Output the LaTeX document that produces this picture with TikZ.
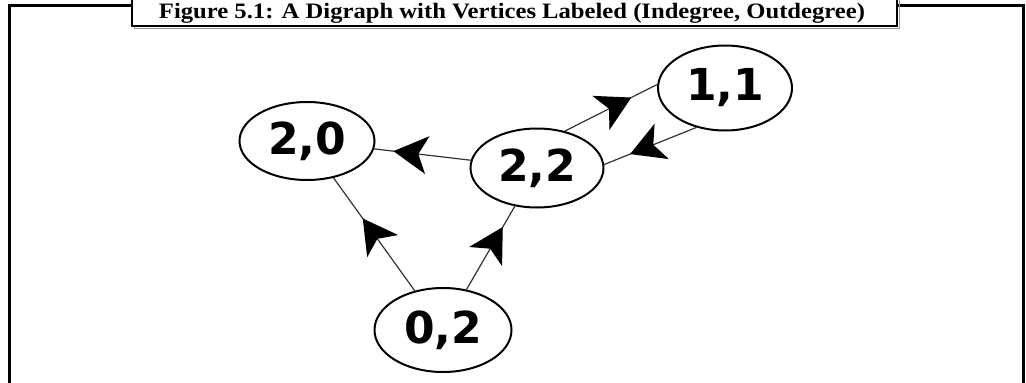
\documentclass[tikz,border=0pt]{standalone}
\usepackage{fontspec}
\setmainfont{Liberation Serif}
\newfontfamily\nodefont{DejaVu Sans}
\usetikzlibrary{arrows.meta,decorations.markings,shapes.geometric}
\begin{document}
\begin{tikzpicture}[x=1pt,y=-1pt,
  vertex/.style={ellipse, draw, line width=2pt, inner sep=0pt, fill=white,
    font=\nodefont\bfseries\fontsize{44}{44}\selectfont},
  link/.style={line width=1.2pt, draw=black!80, postaction={decorate},
    decoration={markings, mark=at position #1 with {\arrow[black]{Stealth[length=34pt,width=38pt,inset=9pt]}}}},
  frameline/.style={line width=3pt},
  titlebox/.style={line width=2.5pt, fill=white},
]
\useasboundingbox (0,0) rectangle (1026,383);
\clip (0,0) rectangle (1026,383);
\draw[frameline] (9,420) -- (9,5) -- (1023,5) -- (1023,420);
\draw[line width=1pt, black!40] (134,-10) -- (134,28) -- (899,28) -- (899,-10);
\draw[titlebox] (132,-10) rectangle (897,26);
\node[font=\bfseries\fontsize{22}{22}\selectfont, anchor=base, inner sep=0pt] (title) at (512,18)
  {\scalebox{1.12}[1]{Figure 5.1: A Digraph with Vertices Labeled (Indegree, Outdegree)}};

\node[vertex, minimum width=135pt, minimum height=78pt] (a) at (307,141) {2,0};
\node[vertex, minimum width=133pt, minimum height=79pt] (b) at (537,168) {2,2};
\node[vertex, minimum width=134pt, minimum height=85pt] (c) at (725,88) {1,1};
\node[vertex, minimum width=137pt, minimum height=84pt] (d) at (443,330) {0,2};

\draw[link=0.8] (b) -- (a);
\draw[link=0.64] (d) -- (a);
\draw[link=0.75] (d) -- (b);
\draw[link=0.72] (b.53) -- (c.177);
\draw[link=0.72] (c.234) -- (b.3);
\end{tikzpicture}
\end{document}
